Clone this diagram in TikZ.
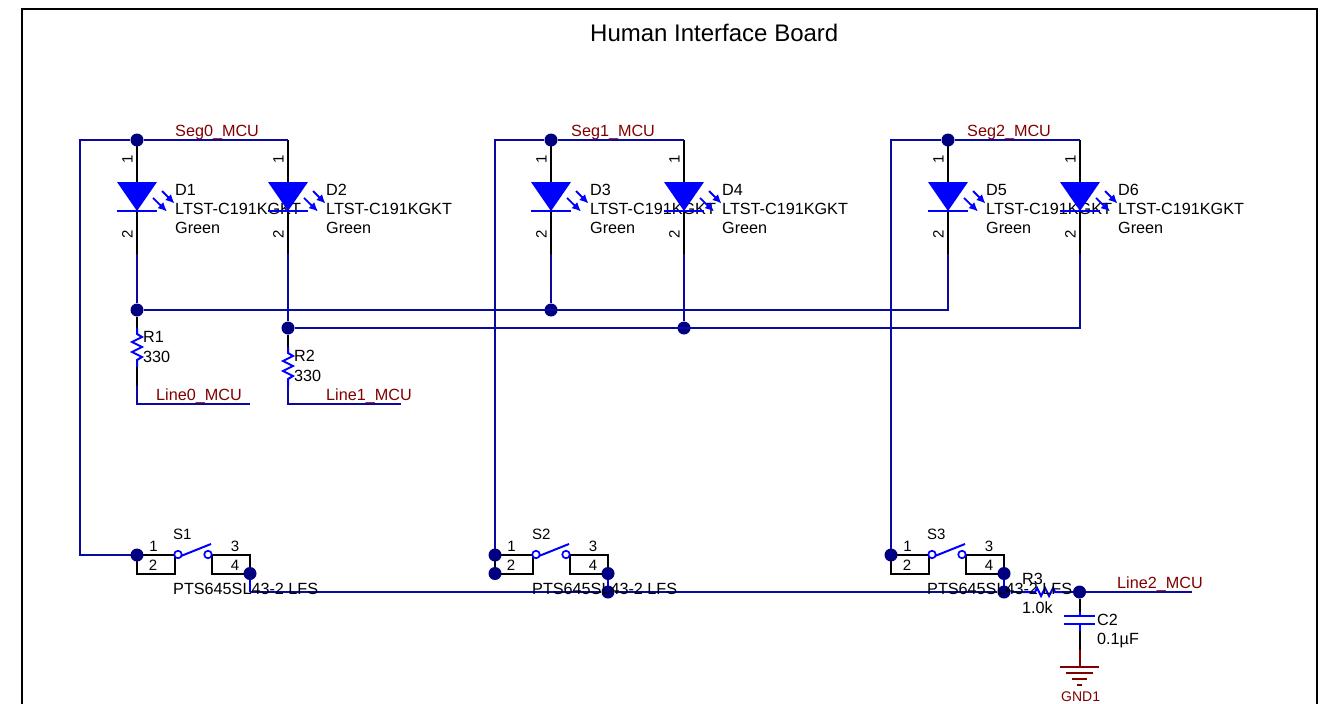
\documentclass[tikz,border=0pt]{standalone}
\usepackage{xcolor}
\usepackage{fontspec}
\usetikzlibrary{arrows.meta}
\setmainfont{Liberation Sans}
\definecolor{wireblue}{RGB}{10,10,160}
\definecolor{dotblue}{RGB}{0,0,128}
\definecolor{partblue}{RGB}{0,0,255}
\definecolor{netred}{RGB}{128,0,0}
\tikzset{
  wire/.style={color=wireblue,line width=2pt},
  lead/.style={color=black,line width=2pt},
  part/.style={color=partblue,line width=2pt},
  gnd/.style={color=netred,line width=2pt},
  dot/.style={circle,fill=dotblue,inner sep=0pt,minimum size=13pt},
  ring/.style={circle,draw=partblue,fill=white,line width=1.7pt,inner sep=0pt,minimum size=7.5pt},
  glow/.style={color=partblue,line width=1.8pt,-{Latex[length=9pt,width=8.5pt]}},
  lbl/.style={anchor=base west,inner sep=0pt,text=black,font=\fontsize{16.2}{19}\selectfont},
  net/.style={lbl,text=netred},
  pin/.style={inner sep=0pt,text=black,font=\fontsize{15}{16}\selectfont}
}
\begin{document}
\begin{tikzpicture}[x=1pt,y=-1pt]
  \useasboundingbox (0,0) rectangle (1339,704);

  % sheet frame
  \coordinate (frameA) at (22,704);
  \coordinate (frameB) at (22,9);
  \coordinate (frameC) at (1317,9);
  \coordinate (frameD) at (1317,704);
  \draw[line width=1.7pt] (frameA) -- (frameB) -- (frameC) -- (frameD);
  \node[lbl,font=\fontsize{24}{28}\selectfont] (title) at (590,41) {Human Interface Board};

  % leds
  \foreach \name/\x/\tx in {D1/137/175,D2/288/326,D3/551/590,D4/684/722,D5/948/986,D6/1080/1118}{
    \coordinate (\name-top) at (\x,140);
    \coordinate (\name-tip) at (\x,211);
    \coordinate (\name-end) at (\x,254);
    \draw[lead] (\name-top) -- (\name-end);
    \fill[partblue] (\x-20,182) -- (\x+20,182) -- (\name-tip) -- cycle;
    \draw[part] (\x-20,211) -- (\x+20,211);
    \draw[glow] (\x+25,191) -- (\x+37.5,203.5);
    \draw[glow] (\x+16,198) -- (\x+30,211.5);
    \node[pin,rotate=90] (\name-p1) at (\x-9.5,159) {1};
    \node[pin,rotate=90] (\name-p2) at (\x-9.5,234) {2};
    \node[lbl] (\name-ref) at (\tx,195) {\name};
    \node[lbl] (\name-val) at (\tx,214.5) {LTST-C191KGKT};
    \node[lbl] (\name-col) at (\tx,233) {Green};
  }

  % switches
  \foreach \name/\dx in {S1/0,S2/358,S3/754}{
    \begin{scope}[xshift=\dx pt]
      \coordinate (\name-a) at (137,555);
      \coordinate (\name-b) at (137,573.5);
      \coordinate (\name-c) at (175,573.5);
      \coordinate (\name-d) at (250,555);
      \coordinate (\name-e) at (250,573.5);
      \coordinate (\name-f) at (212,573.5);
      \coordinate (\name-g) at (250,592);
      \draw[lead] (\name-a) -- (175,555) -- (\name-c) -- (\name-b) -- cycle;
      \draw[lead] (212,555) -- (\name-d) -- (\name-e) -- (\name-f) -- cycle;
      \draw[part] (\name-e) -- (\name-g);
      \draw[part] (181,556) -- (211,544);
      \node[ring] (\name-l) at (178,554.5) {};
      \node[ring] (\name-r) at (208,554.5) {};
      \node[pin] (\name-p1) at (153.5,546) {1};
      \node[pin] (\name-p2) at (153,565.5) {2};
      \node[pin] (\name-p3) at (235,546) {3};
      \node[pin] (\name-p4) at (235,565.5) {4};
    \end{scope}
  }

  % nets
  \coordinate (seg0) at (80,140);
  \coordinate (seg0s) at (80,555);
  \coordinate (seg1) at (495,140);
  \coordinate (seg2) at (891,140);
  \node[dot] (J1) at (D1-top) {};
  \node[dot] (J2) at (D3-top) {};
  \node[dot] (J3) at (D5-top) {};
  \node[dot] (J4) at (137,310) {};
  \node[dot] (J5) at (551,310) {};
  \node[dot] (J6) at (288,328) {};
  \node[dot] (J7) at (684,328) {};
  \coordinate (rowA) at (948,310);
  \coordinate (rowB) at (1080,328);

  \draw[wire] (S1-a) -- (seg0s) -- (seg0) -- (J1) -- (D2-top);
  \draw[wire] (S2-a) -- (seg1) -- (J2) -- (D4-top);
  \draw[wire] (S3-a) -- (seg2) -- (J3) -- (D6-top);
  \draw[wire] (D1-end) -- (J4) -- (rowA) -- (D5-end);
  \draw[wire] (D3-end) -- (J5);
  \draw[wire] (D2-end) -- (J6) -- (rowB) -- (D6-end);
  \draw[wire] (D4-end) -- (J7);

  % resistors down to the lines
  \coordinate (R1a) at (137,328);
  \coordinate (R1b) at (137,367);
  \coordinate (R1c) at (137,386);
  \coordinate (line0) at (137,404);
  \coordinate (line0e) at (250,404);
  \coordinate (R2a) at (288,347);
  \coordinate (R2b) at (288,386);
  \coordinate (line1) at (288,404);
  \coordinate (line1e) at (401,404);
  \draw[lead] (J4) -- (R1a);
  \draw[part] (R1a) -- ++(0,6) -- ++(5,3) -- ++(-10,5) -- ++(10,5) -- ++(-10,5) -- ++(10,5) -- ++(-5,3) -- (R1b);
  \draw[lead] (R1b) -- (R1c);
  \draw[wire] (R1c) -- (line0) -- (line0e);
  \draw[lead] (J6) -- (R2a);
  \draw[part] (R2a) -- ++(0,6) -- ++(5,3) -- ++(-10,5) -- ++(10,5) -- ++(-10,5) -- ++(10,5) -- ++(-5,3) -- (R2b);
  \draw[wire] (R2b) -- (line1) -- (line1e);

  % common line
  \node[dot] (J8) at (S1-e) {};
  \node[dot] (J9) at (S2-a) {};
  \node[dot] (J10) at (S2-b) {};
  \node[dot] (J11) at (S2-e) {};
  \node[dot] (J12) at (S2-g) {};
  \node[dot] (J13) at (S3-e) {};
  \node[dot] (J14) at (S3-g) {};
  \node[dot] (J15) at (1079.5,592) {};
  \node[dot] (J16) at (S1-a) {};
  \node[dot] (J17) at (S3-a) {};
  \coordinate (line2e) at (1192,592);
  \coordinate (R3a) at (1023,592);
  \coordinate (R3b) at (1063,592);
  \draw[wire] (S1-g) -- (J12) -- (J14) -- (R3a);
  \draw[part] (R3a) -- ++(12,0) -- ++(2,-4) -- ++(4,8) -- ++(4,-8) -- ++(4,8) -- ++(4,-8) -- ++(2,4) -- (R3b);
  \draw[wire] (R3b) -- (J15) -- (line2e);

  % capacitor and ground
  \coordinate (C2a) at (1079.5,616);
  \coordinate (C2b) at (1079.5,624);
  \coordinate (C2c) at (1079.5,631);
  \coordinate (C2d) at (1079.5,650);
  \coordinate (gnd1) at (1079.5,667);
  \draw[lead] (J15) -- (1079.5,612);
  \draw[part] (1079.5,612) -- (C2a);
  \draw[part] (1064,616) -- (1095,616);
  \draw[part] (1064,624) -- (1095,624);
  \draw[part] (C2b) -- (C2c);
  \draw[lead] (C2c) -- (C2d);
  \draw[gnd] (C2d) -- (gnd1);
  \draw[gnd] (1060,667) -- (1099,667);
  \draw[gnd] (1066,673) -- (1093,673);
  \draw[gnd] (1072,679) -- (1087,679);
  \draw[gnd] (1077,685) -- (1082,685);

  % labels
  \node[net] (seg0lbl) at (175,136) {Seg0\_MCU};
  \node[net] (seg1lbl) at (571,136) {Seg1\_MCU};
  \node[net] (seg2lbl) at (967,136) {Seg2\_MCU};
  \node[net] (line0lbl) at (156,400) {Line0\_MCU};
  \node[net] (line1lbl) at (326,400) {Line1\_MCU};
  \node[net] (line2lbl) at (1117,588) {Line2\_MCU};
  \node[lbl] (R1ref) at (143,342) {R1};
  \node[lbl] (R1val) at (143,362) {330};
  \node[lbl] (R2ref) at (294,361) {R2};
  \node[lbl] (R2val) at (294,381) {330};
  \node[lbl] (R3ref) at (1022,584) {R3};
  \node[lbl] (R3val) at (1022,613) {1.0k};
  \node[lbl] (C2ref) at (1097,625) {C2};
  \node[lbl] (C2val) at (1097,644) {0.1µF};
  \node[net,font=\fontsize{14}{16}\selectfont] (gndlbl) at (1061,701) {GND1};
  \node[lbl,font=\fontsize{15}{16}\selectfont] (S1ref) at (173,539) {S1};
  \node[lbl,font=\fontsize{15}{16}\selectfont] (S2ref) at (532,539) {S2};
  \node[lbl,font=\fontsize{15}{16}\selectfont] (S3ref) at (927,539) {S3};
  \node[lbl] (S1val) at (173,594.5) {PTS645SL43-2 LFS};
  \node[lbl] (S2val) at (532,594.5) {PTS645SL43-2 LFS};
  \node[lbl] (S3val) at (927,594.5) {PTS645SL43-2 LFS};
\end{tikzpicture}
\end{document}
